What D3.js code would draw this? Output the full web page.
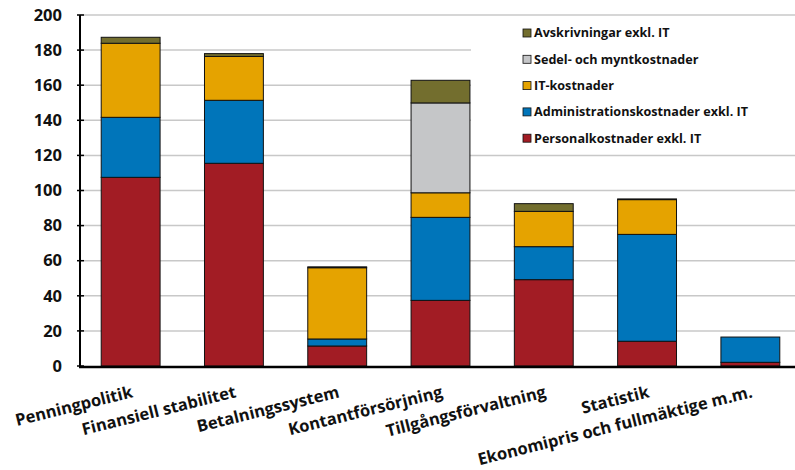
<!DOCTYPE html>
<html>
<head>
<meta charset="utf-8">
<script src="https://cdn.jsdelivr.net/npm/d3@7"></script>
<style>
    body { margin: 0; background: #fff; }
    svg { display: block; font-family: "Open Sans", "Noto Sans", sans-serif; }
</style>
</head>
<body>
<div class="content"></div>
<script>
// data
var categories = ["Penningpolitik", "Finansiell stabilitet", "Betalningssystem", "Kontantförsörjning",
    "Tillgångsförvaltning", "Statistik", "Ekonomipris och fullmäktige m.m."];
var personal = [107.5, 115.5, 11.4, 37.4, 49.2, 14.1, 2.1];
var administration = [34.2, 35.9, 4.0, 47.3, 18.8, 60.9, 14.4];
var itKostnader = [42.2, 25.0, 40.6, 14.0, 20.1, 19.8, 0];
var sedelMynt = [0, 0, 0, 51.2, 0, 0, 0];
var avskrivningar = [3.4, 1.6, 0.5, 12.9, 4.4, 0.4, 0];
var seriesNames = ["Personalkostnader exkl. IT", "Administrationskostnader exkl. IT", "IT-kostnader",
    "Sedel- och myntkostnader", "Avskrivningar exkl. IT"];
var yTicks = [0, 20, 40, 60, 80, 100, 120, 140, 160, 180, 200];

var colors = ["#a21c24", "#0075ba", "#e5a300", "#c5c6c8", "#736e2e"];

var W = 795, H = 470;

var svg = d3.select(".content")
    .append("svg")
    .attr("width", W)
    .attr("height", H);

// build rows for the stack
var seriesValues = [personal, administration, itKostnader, sedelMynt, avskrivningar];
var rows = categories.map(function(c, i) {
    var r = {cat: c};
    seriesNames.forEach(function(s, j) { r[s] = seriesValues[j][i]; });
    return r;
});
var stacked = d3.stack().keys(seriesNames)(rows);

var x = d3.scaleBand()
    .domain(categories)
    .range([79, 802])
    .paddingInner(0.43)
    .paddingOuter(0.215);

var y = d3.scaleLinear()
    .domain([0, 200])
    .range([366, 15]);

// gridlines
svg.append("g")
    .selectAll("line")
    .data(yTicks.slice(1))
    .enter()
    .append("line")
    .attr("x1", 80)
    .attr("x2", W)
    .attr("y1", function(d) { return y(d); })
    .attr("y2", function(d) { return y(d); })
    .attr("stroke", "#c8c8c8")
    .attr("stroke-width", 1.5);

// bars
svg.append("g")
    .selectAll("g")
    .data(stacked)
    .enter()
    .append("g")
    .attr("fill", function(d, i) { return colors[i]; })
    .selectAll("rect")
    .data(function(d) { return d.filter(function(p) { return p[1] - p[0] > 0; }); })
    .enter()
    .append("rect")
    .attr("x", function(d) { return x(d.data.cat); })
    .attr("width", x.bandwidth())
    .attr("y", function(d) { return y(d[1]); })
    .attr("height", function(d) { return y(d[0]) - y(d[1]); })
    .attr("stroke", "#111")
    .attr("stroke-width", 1);

// legend box
svg.append("rect")
    .attr("x", 471)
    .attr("y", 22)
    .attr("width", W - 471)
    .attr("height", 128)
    .attr("fill", "#fff");

var legend = svg.append("g")
    .selectAll("g")
    .data(seriesNames.slice().reverse())
    .enter()
    .append("g")
    .attr("transform", function(d, i) { return "translate(523," + (33 + i * 26.3) + ")"; });

legend.append("rect")
    .attr("x", 0)
    .attr("y", -4)
    .attr("width", 8)
    .attr("height", 8)
    .attr("fill", function(d) { return colors[seriesNames.indexOf(d)]; })
    .attr("stroke", "#111")
    .attr("stroke-width", 0.8);

legend.append("text")
    .attr("x", 11)
    .attr("y", 0)
    .attr("dy", "0.35em")
    .attr("font-size", "12.6px")
    .attr("font-weight", "bold")
    .attr("fill", "#111")
    .text(function(d) { return d; });

// y axis
var yAxis = svg.append("g");
yAxis.append("line")
    .attr("x1", 80).attr("x2", 80)
    .attr("y1", y(200)).attr("y2", y(0) + 1)
    .attr("stroke", "#000")
    .attr("stroke-width", 2);
yAxis.selectAll("line.tick")
    .data(yTicks)
    .enter()
    .append("line")
    .attr("class", "tick")
    .attr("x1", 77).attr("x2", 84)
    .attr("y1", function(d) { return y(d); })
    .attr("y2", function(d) { return y(d); })
    .attr("stroke", "#000")
    .attr("stroke-width", 1.5);
yAxis.selectAll("text")
    .data(yTicks)
    .enter()
    .append("text")
    .attr("x", 62)
    .attr("y", function(d) { return y(d); })
    .attr("dy", "0.35em")
    .attr("text-anchor", "end")
    .attr("font-size", "16.5px")
    .attr("font-weight", "bold")
    .attr("fill", "#111")
    .text(function(d) { return d; });

// x axis line
svg.append("line")
    .attr("x1", 79).attr("x2", W)
    .attr("y1", y(0) + 1).attr("y2", y(0) + 1)
    .attr("stroke", "#000")
    .attr("stroke-width", 2.5);

// category labels, rotated
svg.append("g")
    .selectAll("text")
    .data(categories)
    .enter()
    .append("text")
    .attr("transform", function(d) {
        return "translate(" + (x(d) + x.bandwidth() / 2 + 3) + ",397) rotate(-14)";
    })
    .attr("text-anchor", "end")
    .attr("font-size", "16.5px")
    .attr("font-weight", "bold")
    .attr("fill", "#111")
    .text(function(d) { return d; });
</script>
</body>
</html>
